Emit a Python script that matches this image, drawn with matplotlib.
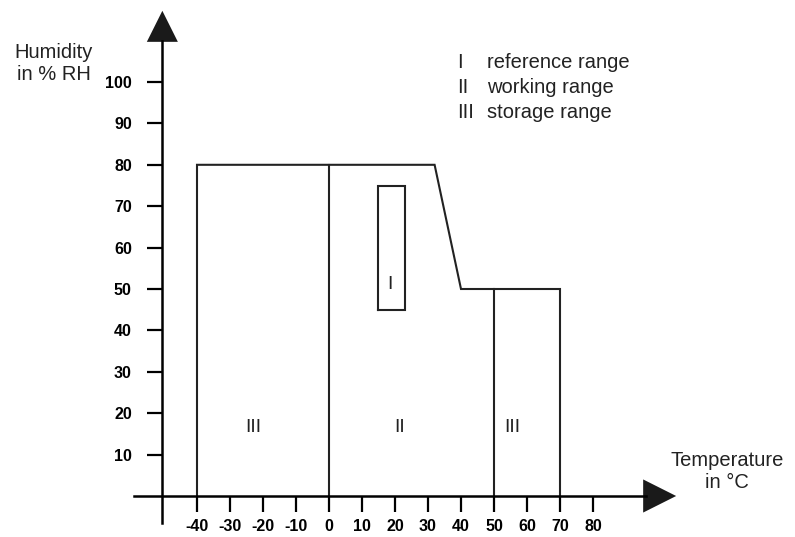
import matplotlib
matplotlib.use("Agg")
import matplotlib.pyplot as plt

plt.rcParams['font.family'] = ['Liberation Sans', 'DejaVu Sans']

# ticks
x_ticks = [-40, -30, -20, -10, 0, 10, 20, 30, 40, 50, 60, 70, 80]
y_ticks = [10, 20, 30, 40, 50, 60, 70, 80, 90, 100]

# outline of storage / working range (temperature, humidity)
outline_t = [-40, -40, 32, 40, 70, 70]
outline_h = [0, 80, 80, 50, 50, 0]

# separating lines
divider_t = [0, 50]
divider_top = [80, 50]

# reference range box
ref_t = [15, 23]
ref_h = [45, 75]

# region labels
region_names = ["III", "II", "III", "I"]
region_t = [-23, 21.5, 55.5, 18.5]
region_h = [16.5, 16.5, 16.5, 51]

legend_keys = ["I", "II", "III"]
legend_text = ["reference range", "working range", "storage range"]

fig = plt.figure(figsize=(7.95, 5.37), dpi=100)
ax = fig.add_axes([0, 0, 1, 1])
# pixel mapping: x = 329 + 3.3*T, y = 496 - 4.14*H
ax.set_xlim(-329 / 3.3, (795 - 329) / 3.3)
ax.set_ylim(-(537 - 496) / 4.14, 496 / 4.14)

for s in ['top', 'right']:
    ax.spines[s].set_visible(False)
ax.spines['left'].set_position(('data', -50.5))
ax.spines['bottom'].set_position(('data', 0))
ax.spines['left'].set_bounds(-6.5, 110)
ax.spines['bottom'].set_bounds(-59, 96)
for s in ['left', 'bottom']:
    ax.spines[s].set_linewidth(1.8)

ax.set_xticks(x_ticks)
ax.set_xticklabels([str(v) for v in x_ticks], fontweight='bold', fontsize=11.5)
ax.set_yticks(y_ticks)
ax.set_yticklabels([str(v) for v in y_ticks], fontweight='bold', fontsize=11.5)
ax.tick_params(axis='x', direction='out', length=11.5, width=1.6, pad=5)
ax.tick_params(axis='y', direction='out', length=11, width=1.6, pad=11)

# arrow heads
ya = -50.5
ax.fill([ya - 4.7, ya + 4.7, ya], [109.7, 109.7, 117.2], color='#1a1a1a', lw=0)
ax.fill([95.2, 95.2, 105.2], [-4, 4, 0], color='#1a1a1a', lw=0)

line_kw = dict(color='#222222', lw=1.5, solid_joinstyle='miter')
ax.plot(outline_t, outline_h, **line_kw)
for t, top in zip(divider_t, divider_top):
    ax.plot([t, t], [0, top], **line_kw)
ax.plot([ref_t[0], ref_t[1], ref_t[1], ref_t[0], ref_t[0]],
        [ref_h[0], ref_h[0], ref_h[1], ref_h[1], ref_h[0]], **line_kw)

for name, t, h in zip(region_names, region_t, region_h):
    ax.text(t, h, name, ha='center', va='center', fontsize=14, color='#222222')

# legend
for i, (k, txt) in enumerate(zip(legend_keys, legend_text)):
    y = (496 - 62 - 25.5 * i) / 4.14
    ax.text((457 - 329) / 3.3, y, k, ha='left', va='center', fontsize=14.5, color='#222222')
    ax.text((487 - 329) / 3.3, y, txt, ha='left', va='center', fontsize=14.5, color='#222222')

ax.text((54 - 329) / 3.3, (496 - 64) / 4.14, "Humidity\nin % RH", ha='center', va='center',
        fontsize=14.5, color='#222222', linespacing=1.2)
ax.text((727 - 329) / 3.3, (496 - 471) / 4.14, "Temperature\nin °C", ha='center', va='center',
        fontsize=14.5, color='#222222', linespacing=1.2)

fig.savefig("out.png", dpi=100)
